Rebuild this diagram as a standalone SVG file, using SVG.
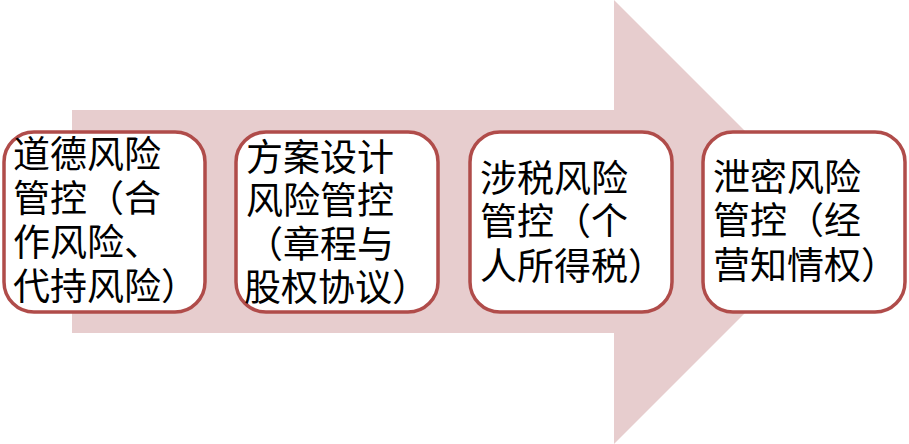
<svg xmlns="http://www.w3.org/2000/svg" width="909" height="444" viewBox="0 0 909 444">
<style>
.box{fill:#fff;stroke:#b04c4a;stroke-width:3.5}
.t{font-family:"Noto Sans CJK SC","Noto Sans CJK JP",sans-serif;font-size:37px;fill:#000}
</style>
<rect width="909" height="444" fill="#fff"/>
<g id="arrow">
<polygon points="72,110 614,110 614,0 836,222 614,444 614,333 72,333" fill="#e7cdce"/>
</g>
<g id="connectors"></g>
<g id="n1">
<rect class="box" x="4" y="132" width="201" height="180" rx="30"/>
<text class="t" x="13"><tspan x="13" y="168">道德风险</tspan><tspan x="13" y="212">管控（合</tspan><tspan x="13" y="256">作风险、</tspan><tspan x="13" y="300">代持风险）</tspan></text>
</g>
<g id="n2">
<rect class="box" x="236" y="132" width="202" height="180" rx="30"/>
<text class="t"><tspan x="246" y="171">方案设计</tspan><tspan x="246" y="214">风险管控</tspan><tspan x="246" y="258">（章程与</tspan><tspan x="244" y="301">股权协议）</tspan></text>
</g>
<g id="n3">
<rect class="box" x="470" y="132" width="202" height="180" rx="30"/>
<text class="t"><tspan x="480" y="192">涉税风险</tspan><tspan x="480" y="235">管控（个</tspan><tspan x="480" y="280">人所得税）</tspan></text>
</g>
<g id="n4">
<rect class="box" x="703" y="132" width="202" height="180" rx="30"/>
<text class="t"><tspan x="713" y="191">泄密风险</tspan><tspan x="713" y="234">管控（经</tspan><tspan x="713" y="279">营知情权）</tspan></text>
</g>
</svg>
